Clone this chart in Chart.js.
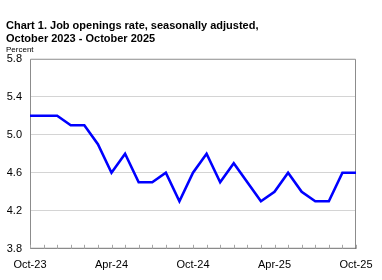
<!DOCTYPE html>
<html>
<head>
<meta charset="utf-8">
<script src="https://cdn.jsdelivr.net/npm/chart.js@4.4.1/dist/chart.umd.min.js"></script>
<style>
  html, body { margin: 0; padding: 0; background: #fff; }
  #wrap { width: 382px; height: 280px; }
</style>
</head>
<body>
<div id="wrap"><canvas id="jolts-chart"></canvas></div>
<script>
    "use strict";

    // Data
    var months = ["Oct-23", "Nov-23", "Dec-23", "Jan-24", "Feb-24", "Mar-24", "Apr-24",
        "May-24", "Jun-24", "Jul-24", "Aug-24", "Sep-24", "Oct-24", "Nov-24", "Dec-24",
        "Jan-25", "Feb-25", "Mar-25", "Apr-25", "May-25", "Jun-25", "Jul-25", "Aug-25",
        "Sep-25", "Oct-25"];
    var openingsRate = [5.2, 5.2, 5.2, 5.1, 5.1, 4.9, 4.6, 4.8, 4.5, 4.5, 4.6, 4.3, 4.6,
        4.8, 4.5, 4.7, 4.5, 4.3, 4.4, 4.6, 4.4, 4.3, 4.3, 4.6, 4.6];
    var yTicks = [3.8, 4.2, 4.6, 5.0, 5.4, 5.8];

    var fontFamily = "'Liberation Sans', Arial, sans-serif";

    // Frame around plot + small inward month ticks
    var frame = {
        id: "frame",
        beforeDatasetsDraw: function (chart) {
            var ctx = chart.ctx, a = chart.chartArea, x = chart.scales.x;
            ctx.save();
            ctx.lineWidth = 1;
            ctx.strokeStyle = "#8c8c8c";
            ctx.beginPath();
            ctx.moveTo(a.left + 0.5, a.bottom);
            ctx.lineTo(a.left + 0.5, a.top + 0.5);
            ctx.lineTo(a.right - 0.5, a.top + 0.5);
            ctx.lineTo(a.right - 0.5, a.bottom);
            ctx.stroke();
            ctx.strokeStyle = "#6e6e6e";
            ctx.beginPath();
            ctx.moveTo(a.left, a.bottom - 0.5);
            ctx.lineTo(a.right, a.bottom - 0.5);
            ctx.stroke();
            ctx.strokeStyle = "#a6a6a6";
            ctx.beginPath();
            for (var i = 0; i < months.length; i++) {
                var px = Math.round(x.getPixelForValue(i)) + 0.5;
                ctx.moveTo(px, a.bottom);
                ctx.lineTo(px, a.bottom - 4);
            }
            ctx.stroke();
            ctx.restore();
        }
    };

    var ctx = document.getElementById("jolts-chart").getContext("2d");
    var joltsChart = new Chart(ctx, {
        type: "line",
        data: {
            labels: months,
            datasets: [{
                label: "Job openings rate",
                data: openingsRate,
                borderColor: "#0000ff",
                borderWidth: 2.6,
                pointRadius: 0,
                tension: 0,
                fill: false
            }]
        },
        options: {
            responsive: true,
            maintainAspectRatio: false,
            animation: false,
            layout: { padding: { left: 6, right: 26, top: 19, bottom: 6 } },
            plugins: {
                legend: { display: false },
                tooltip: { enabled: false },
                title: {
                    display: true,
                    align: "start",
                    text: ["Chart 1. Job openings rate, seasonally adjusted,", "October 2023 - October 2025"],
                    color: "#000",
                    font: { family: fontFamily, size: 11, weight: "bold", lineHeight: 1.18 },
                    padding: { top: 0, bottom: 0 }
                },
                subtitle: {
                    display: true,
                    align: "start",
                    text: "Percent",
                    color: "#000",
                    font: { family: fontFamily, size: 8, lineHeight: 1.1 },
                    padding: { top: 0, bottom: 5 }
                }
            },
            scales: {
                x: {
                    offset: false,
                    grid: { display: false },
                    border: { display: false },
                    ticks: {
                        autoSkip: false,
                        maxRotation: 0,
                        color: "#000",
                        padding: 2,
                        font: { family: fontFamily, size: 11 },
                        callback: function (v, i) { return i % 6 === 0 ? months[i] : ""; }
                    }
                },
                y: {
                    min: yTicks[0],
                    max: yTicks[yTicks.length - 1],
                    afterFit: function (scale) { scale.width = 24; },
                    afterBuildTicks: function (scale) {
                        scale.ticks = yTicks.map(function (v) { return { value: v }; });
                    },
                    grid: {
                        drawTicks: false,
                        color: function (c) {
                            return (c.index === 0 || c.index === yTicks.length - 1) ? "rgba(0,0,0,0)" : "#d4d4d4";
                        }
                    },
                    border: { display: false },
                    ticks: {
                        color: "#000",
                        padding: 8,
                        font: { family: fontFamily, size: 11 },
                        callback: function (v) { return Number(v).toFixed(1); }
                    }
                }
            }
        },
        plugins: [frame]
    });
</script>
</body>
</html>
